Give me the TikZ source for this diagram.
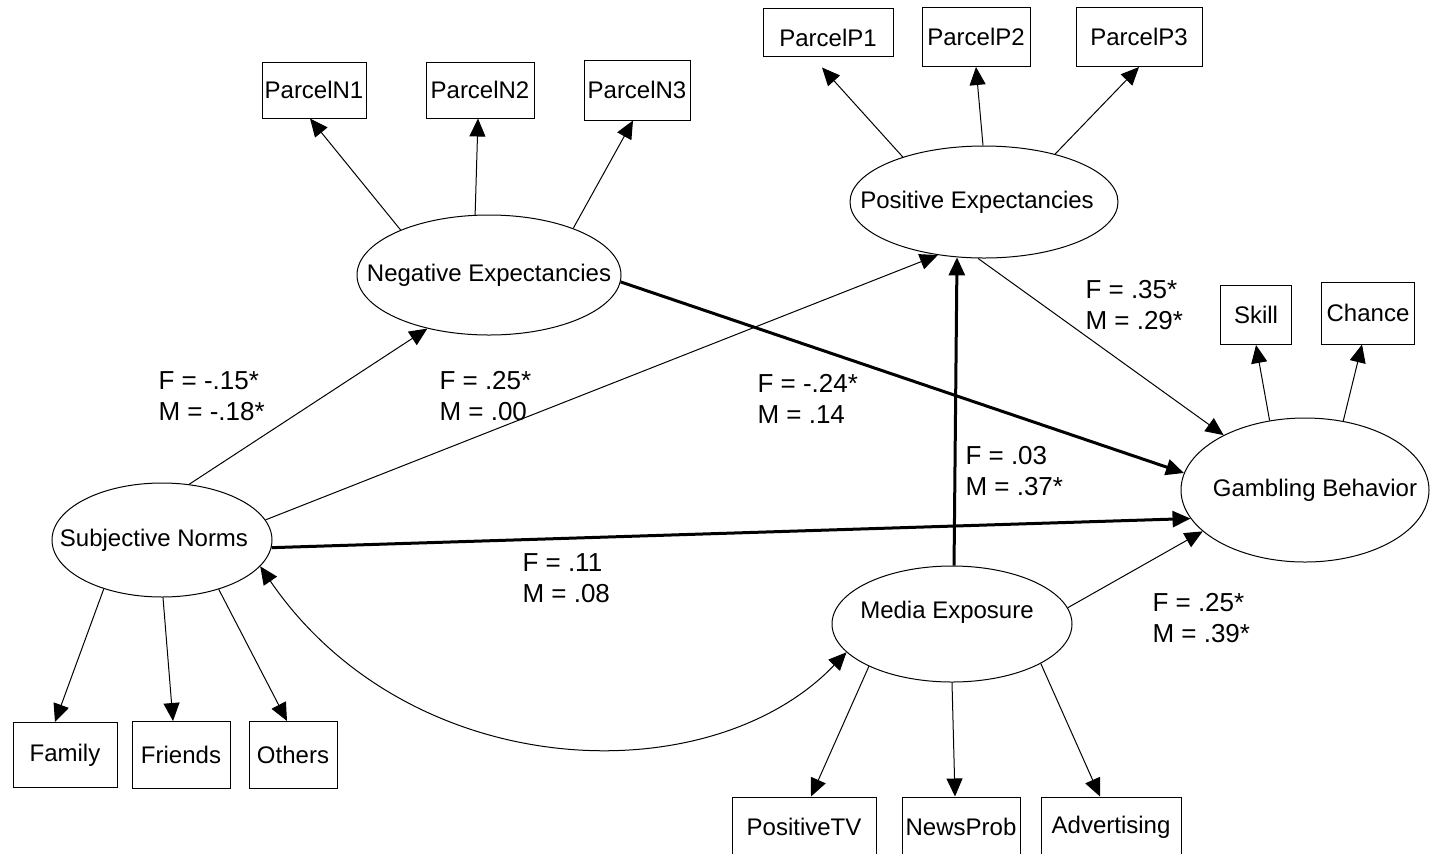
\documentclass[tikz,border=0pt]{standalone}
\usepackage{fontspec}
\setmainfont{Liberation Sans}
\usetikzlibrary{shapes.geometric,arrows.meta}

\begin{document}
\begin{tikzpicture}[
  x=0.5pt,
  y=-0.5pt,
  line width=0.5pt,
  >={Triangle[length=9pt,width=8pt]},
  font=\fontsize{12}{14}\selectfont,
  latent/.style={
    draw,
    ellipse,
    inner sep=0pt
    },
  indicator/.style={
    draw,
    rectangle,
    inner sep=0pt
    },
  coef/.style={
    anchor=north west,
    inner sep=0pt,
    align=left,
    font=\fontsize{13}{15.5}\selectfont
    },
  strong/.style={line width=1.5pt}
]
\useasboundingbox (0,0) rectangle (1430,853);

\node[latent, minimum width=132pt, minimum height=60pt,
  label={center:Negative Expectancies}] (neg) at (489,275) {};
\node[latent, minimum width=134pt, minimum height=56pt,
  label={[xshift=-3.5pt]center:Positive Expectancies}] (pos) at (984,202) {};
\node[latent, minimum width=124pt, minimum height=72pt,
  label={[xshift=5pt]center:Gambling Behavior}] (gb) at (1305,490) {};
\node[latent, minimum width=110pt, minimum height=57pt,
  label={[xshift=-4pt]center:Subjective Norms}] (sn) at (162,540) {};
\node[latent, minimum width=120pt, minimum height=58pt,
  label={[xshift=-2.5pt,yshift=6pt]center:Media Exposure}] (me) at (952,624) {};

\node[indicator, minimum width=52pt, minimum height=28pt] (n1) at (314,90) {ParcelN1};
\node[indicator, minimum width=54pt, minimum height=28pt] (n2) at (480,90) {ParcelN2};
\node[indicator, minimum width=53pt, minimum height=30pt] (n3) at (637,90) {ParcelN3};
\node[indicator, minimum width=65pt, minimum height=24pt, text height=14.5pt] (p1) at (828,32) {ParcelP1};
\node[indicator, minimum width=54pt, minimum height=29.5pt] (p2) at (976,37) {ParcelP2};
\node[indicator, minimum width=63pt, minimum height=29.5pt] (p3) at (1139,37) {ParcelP3};
\node[indicator, minimum width=35.5pt, minimum height=29.5pt] (skill) at (1256,315) {Skill};
\node[indicator, minimum width=46.5pt, minimum height=31pt] (chance) at (1368,313) {Chance};
\node[indicator, minimum width=52pt, minimum height=32.5pt] (fam) at (65,755) {Family};
\node[indicator, minimum width=49pt, minimum height=33.5pt] (fri) at (181,755) {Friends};
\node[indicator, minimum width=44pt, minimum height=33.5pt] (oth) at (293,755) {Others};
\node[indicator, minimum width=72pt, minimum height=30pt] (ptv) at (804,827) {PositiveTV};
\node[indicator, minimum width=59pt, minimum height=30pt] (news) at (961,827) {NewsProb};
\node[indicator, minimum width=70pt, minimum height=30pt] (adv) at (1111,827) {Advertising};

\foreach \Ang/\Obs/\Dx in {153/n1/-2, 103/n2/-1, 29/n3/-2}
  \draw[->] (neg.\Ang) -- ([xshift=\Dx pt]\Obs.south);
\foreach \Ang/\Obs/\Dx/\Dy in {151/p1/-3/-5.5, 91/p2/0/0, 34/p3/0/0}
  \draw[->] (pos.\Ang) -- ([xshift=\Dx pt,yshift=\Dy pt]\Obs.south);
\foreach \Ang/\Obs/\Dx in {117/skill/0, 61.5/chance/-3}
  \draw[->] (gb.\Ang) -- ([xshift=\Dx pt]\Obs.south);
\foreach \Ang/\Obs/\Dx in {220/fam/-5, 271/fri/-4, 319/oth/-3}
  \draw[->] (sn.\Ang) -- ([xshift=\Dx pt]\Obs.north);
\foreach \Ang/\Obs/\Dx in {207/ptv/3.5, 270/news/-3, 336/adv/-5.5}
  \draw[->] (me.\Ang) -- ([xshift=\Dx pt]\Obs.north);

\draw[->] (sn.64) -- (neg.221);
\draw[->] (sn.11) -- (pos.229);
\draw[->, strong] (sn.-4) -- (gb.194);
\draw[->, strong] (neg.-3) -- (gb.172);
\draw[->] (pos.264) -- (gb.146);
\draw[->, strong] (me.88) -- (pos.244);
\draw[->] (me.8) -- (gb.202);
\draw[<->] (sn.-15) .. controls (410,785) and (710,795) .. (me.195);

\node[coef] (c1) at (158,371) {F = -.15*\\M = -.18*};
\node[coef] (c2) at (439,371) {F = .25*\\M = .00};
\node[coef] (c3) at (757,374) {F = -.24*\\M = .14};
\node[coef] (c4) at (1085,280) {F = .35*\\M = .29*};
\node[coef] (c5) at (965,446) {F = .03\\M = .37*};
\node[coef] (c6) at (522,553) {F = .11\\M = .08};
\node[coef] (c7) at (1152,593) {F = .25*\\M = .39*};

\end{tikzpicture}
\end{document}
